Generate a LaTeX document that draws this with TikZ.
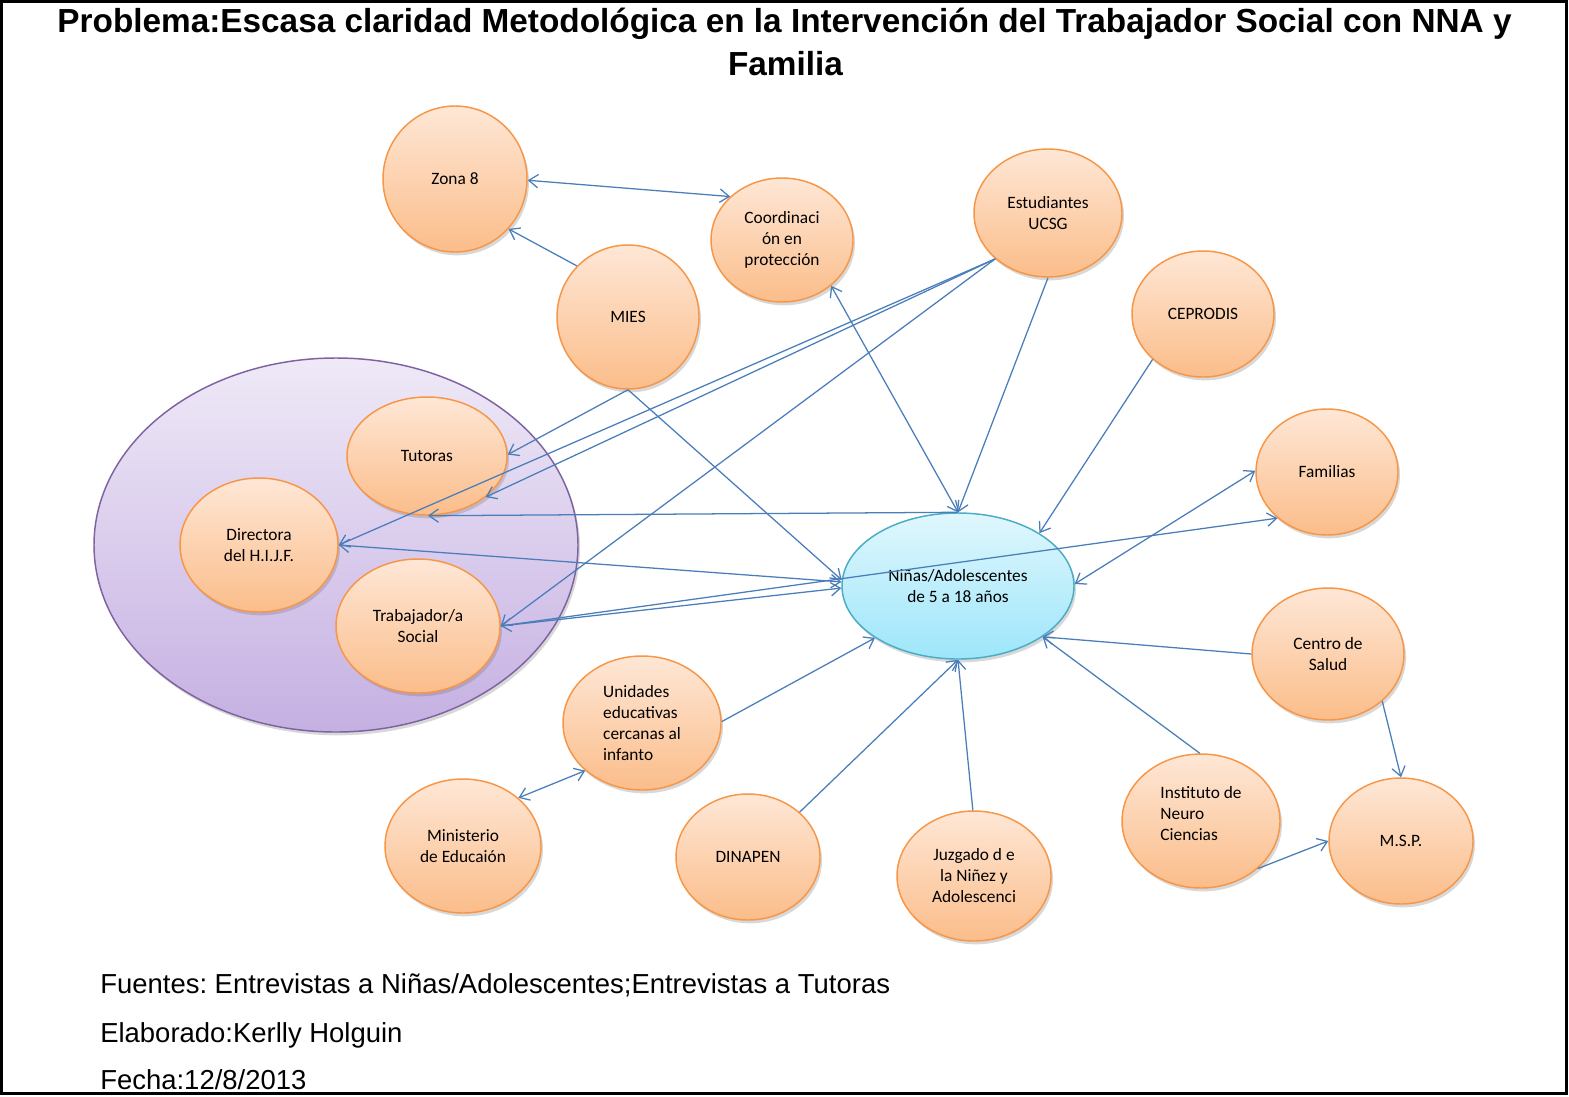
\documentclass[tikz,border=0pt]{standalone}
\usepackage{fontspec}
\usetikzlibrary{shapes.geometric,arrows.meta,shadows}
\newfontfamily\nodefont{Carlito}
\newfontfamily\arialfont{Liberation Sans}
\frenchspacing
\definecolor{orgline}{HTML}{F79646}
\definecolor{orgtop}{HTML}{FEE7D6}
\definecolor{orgbot}{HTML}{FBBD8A}
\definecolor{ninline}{HTML}{4BACC6}
\definecolor{nintop}{HTML}{E0F7FD}
\definecolor{ninbot}{HTML}{9DE6FA}
\definecolor{bigline}{HTML}{7F63A1}
\definecolor{bigtop}{HTML}{EFE9F7}
\definecolor{bigbot}{HTML}{C5B0E2}
\definecolor{conn}{HTML}{4A7EBB}
\tikzset{
  sz/.style 2 args={minimum width=#1*1.5pt, minimum height=#2*1.5pt},
  shad/.style={drop shadow={shadow xshift=1.5pt, shadow yshift=-2.5pt, opacity=0.25, fill=black!60}},
  org/.style={ellipse, draw=orgline, line width=1.1pt, top color=orgtop, bottom color=orgbot,
    inner sep=0pt, align=center, shad, font=\nodefont\fontsize{13}{15.75}\selectfont},
  ninst/.style={org, draw=ninline, top color=nintop, bottom color=ninbot},
  bigst/.style={ellipse, draw=bigline, line width=1.1pt, top color=bigtop, bottom color=bigbot, inner sep=0pt, shad},
  tip/.tip={Straight Barb[length=7pt,width=10pt]},
  con/.style={draw=conn, line width=0.95pt, -tip},
  bicon/.style={draw=conn, line width=0.95pt, tip-tip},
  ttl/.style={font=\arialfont\bfseries\fontsize{25}{30}\selectfont, anchor=base, inner sep=0pt},
  foot/.style={font=\arialfont\fontsize{20.6}{24}\selectfont, anchor=base west, inner sep=0pt},
}
\begin{document}
\begin{tikzpicture}[x=0.75pt, y=-0.75pt]
\useasboundingbox (0,0) rectangle (1569,1096);
\fill[white] (0,0) rectangle (1569,1096);
\draw[line width=2.25pt] (1.5,1.5) rectangle (1566.5,1093.5);

% title
\node[ttl] (t1) at (784.5,32) {Problema:Escasa claridad Metodológica en la Intervención del Trabajador Social con NNA y};
\node[ttl] (t2) at (785.5,75) {Familia};

% group ellipse
\node[bigst, sz={242}{187}] (hijf) at (336,545) {};

% nodes
\node[org, sz={72}{73}] (zona) at (455,179) {Zona 8};
\node[org, sz={71}{62}] (coord) at (782,240) {Coordinaci\\ón en\\protección};
\node[org, sz={71}{72}] (mies) at (628,317) {MIES};
\node[org, sz={74}{64}] (estu) at (1048,213) {Estudiantes\\UCSG};
\node[org, sz={71}{63}] (cepro) at (1203,314) {CEPRODIS};
\node[org, sz={71}{63}] (fam) at (1327,472) {Familias};
\node[ninst, sz={116}{73}] (nin) at (958,586) {Niñas/Adolescentes\\de 5 a 18 años};
\node[org, sz={76}{66}] (centro) at (1328,654) {Centro de\\Salud};
\node[org, sz={79}{67}, align=left] (inst) at (1201,821) {Instituto de\\Neuro\\Ciencias\\[-9pt]\strut};
\node[org, sz={72}{63}] (msp) at (1401,841) {M.S.P.};
\node[org, sz={79}{67}, align=left] (unid) at (642,723) {Unidades\\educativas\\cercanas al\\infanto};
\node[org, sz={78}{67}] (minis) at (463,846) {Ministerio\\de Educaión};
\node[org, sz={72}{63}] (dina) at (748,857) {DINAPEN};
\node[org, sz={77}{65}] (juz) at (974,876) {Juzgado d e\\la Niñez y\\Adolescenci};
\node[org, sz={80}{59}] (tut) at (427,456) {Tutoras};
\node[org, sz={79}{67}] (dir) at (259,545) {Directora\\del H.I.J.F.};
\node[org, sz={82}{67}] (trab) at (418,626) {Trabajador/a\\Social};

% connectors
\draw[bicon] (zona.-1) -- (coord.140);
\draw[con] (mies.135) -- (zona.-43);
\draw[con] (mies.-90) -- (tut.1);
\draw[con] (mies.-90) -- (nin.177.5);
\draw[bicon] (coord.-43) -- (nin.90);
\draw[con] (estu.-90) -- (nin.90);
\draw[con] (estu.-139) -- (dir.0);
\draw[con] (estu.-139) -- (tut.-35);
\draw[con] (estu.-139) -- (trab.0);
\draw[con] (nin.90) -- (tut.-89);
\draw[bicon] (dir.0) -- (nin.178.5);
\draw[bicon] (trab.0) -- (nin.-179);
\draw[con] (trab.0) -- (fam.-137.4);
\draw[bicon] (nin.1) -- (fam.179);
\draw[con] (cepro.-138.6) -- (nin.33);
\draw[con] (centro.180) -- (nin.-31.4);
\draw[con] (inst.91) -- (nin.-31.4);
\draw[con] (centro.-41) -- (msp.90);
\draw[con] (inst.-40.5) -- (msp.180);
\draw[con] (juz.91.8) -- (nin.-90);
\draw[con] (dina.41.4) -- (nin.-90);
\draw[con] (unid.1.5) -- (nin.-148.6);
\draw[bicon] (minis.41) -- (unid.-140.6);

% footer
\node[foot] (f1) at (100,993) {Fuentes: Entrevistas a Niñas/Adolescentes;Entrevistas a Tutoras};
\node[foot] (f2) at (100,1042) {Elaborado:Kerlly Holguin};
\node[foot] (f3) at (100,1089) {Fecha:12/8/2013};
\end{tikzpicture}
\end{document}
